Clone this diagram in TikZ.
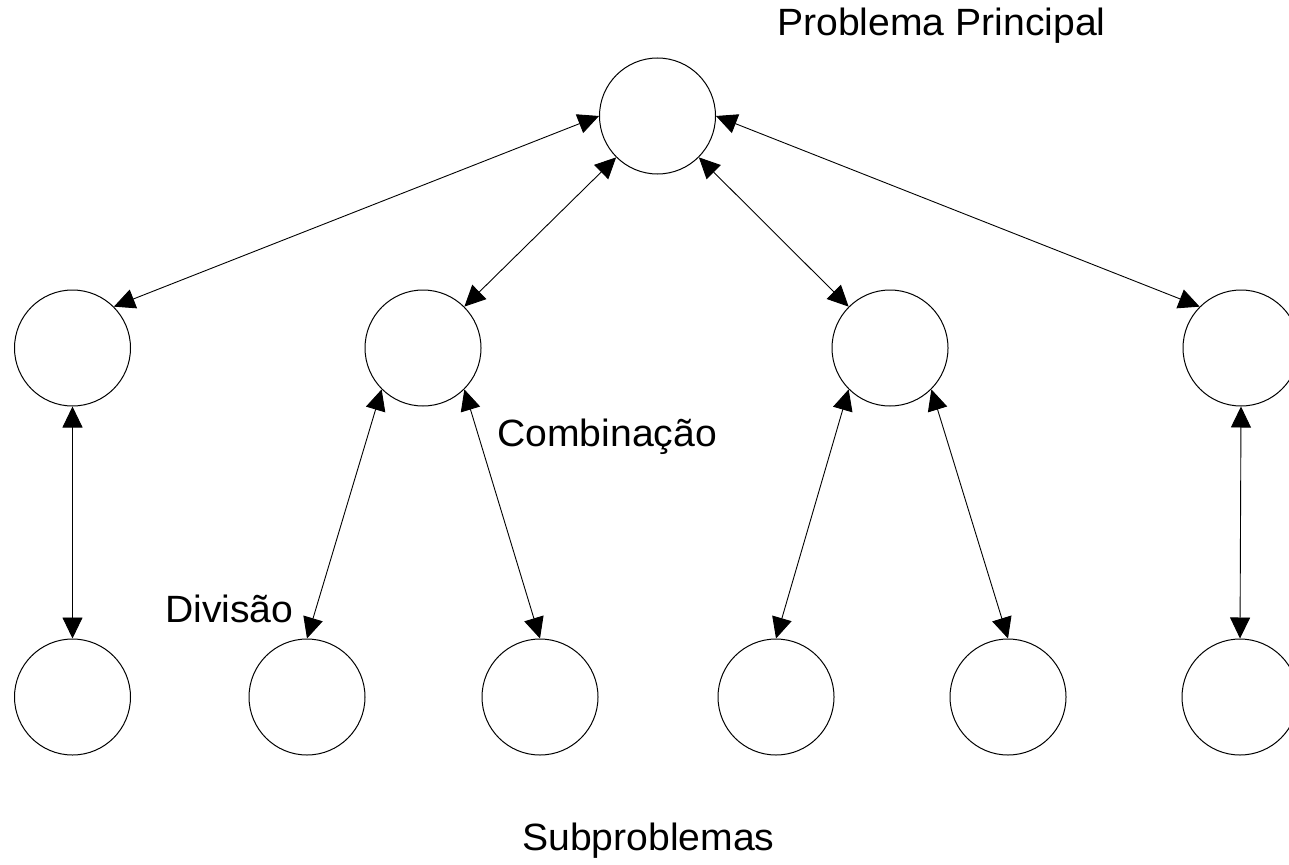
\documentclass[tikz,border=0pt]{standalone}
\usepackage{fontspec}
\setmainfont{Liberation Sans}[FakeStretch=1.03]
\usetikzlibrary{arrows.meta}
\begin{document}
\begin{tikzpicture}[x=1pt,y=-1pt,
  prob/.style={circle,draw,line width=1pt,minimum size=116pt,inner sep=0pt},
  link/.style={line width=0.9pt,{Triangle[length=21pt,width=20pt]}-{Triangle[length=21pt,width=20pt]}},
  lbl/.style={anchor=base west,inner sep=0pt,font=\fontsize{38}{44}\selectfont}]
\useasboundingbox (0,0) rectangle (1289,864);
\clip (0,0) rectangle (1289,864);
% main problem
\node[prob] (T) at (657.5,116) {};
% first level of subproblems
\node[prob] (M1) at (72.5,348) {};
\node[prob] (M2) at (423,348) {};
\node[prob] (M3) at (890,348) {};
\node[prob] (M4) at (1241,348) {};
% second level of subproblems
\node[prob] (B1) at (72.5,697) {};
\node[prob] (B2) at (307,697) {};
\node[prob] (B3) at (540,697) {};
\node[prob] (B4) at (776,697) {};
\node[prob] (B5) at (1008,697) {};
\node[prob] (B6) at (1240,697) {};
% division / combination links
\draw[link] (T.west) -- (M1.north east);
\draw[link] (T.south west) -- (M2.north east);
\draw[link] (T.south east) -- (M3.north west);
\draw[link] (T.east) -- (M4.north west);
\draw[link] (M1.south) -- (B1.north);
\draw[link] (M2.south west) -- (B2.north);
\draw[link] (M2.south east) -- (B3.north);
\draw[link] (M3.south west) -- (B4.north);
\draw[link] (M3.south east) -- (B5.north);
\draw[link] (M4.south) -- (B6.north);
% labels
\node[lbl] (lp) at (777,36) {Problema Principal};
\node[lbl] (lc) at (497,446) {Combinação};
\node[lbl] (ld) at (165,622) {Divisão};
\node[lbl] (ls) at (522,850) {Subproblemas};
\end{tikzpicture}
\end{document}
